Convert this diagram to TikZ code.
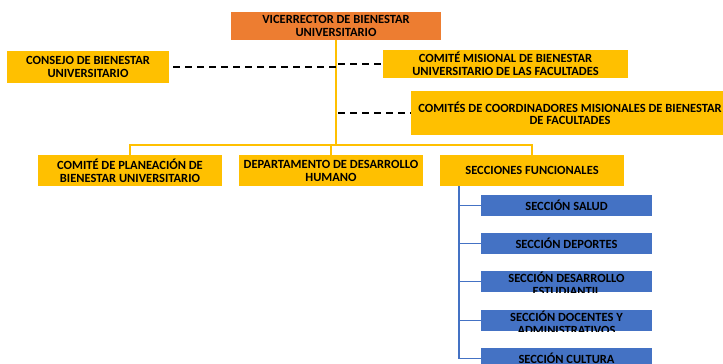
\documentclass[tikz,border=0pt]{standalone}
\usepackage{fontspec}
\setmainfont{Carlito}
\definecolor{orgc}{HTML}{ED7D31}
\definecolor{yelc}{HTML}{FFC000}
\definecolor{bluc}{HTML}{4472C4}
\begin{document}
\begin{tikzpicture}[x=1pt,y=-1pt,
  txt/.style={font=\fontsize{12.5}{13}\selectfont\bfseries, text=black, align=center, inner sep=0pt},
  obox/.style={txt, fill=orgc},
  ybox/.style={txt, fill=yelc},
  bbox/.style={txt, fill=bluc, minimum width=171pt, minimum height=21pt},
  yline/.style={draw=yelc, line width=1.6pt},
  bline/.style={draw=bluc, line width=1.8pt},
  dline/.style={draw=black, line width=1.5pt, dash pattern=on 7pt off 5pt}]
\useasboundingbox (0,0) rectangle (723,364);
\coordinate (j1) at (336,145);
\node[obox, minimum width=210pt, minimum height=28pt] (vr) at (336,26) {VICERRECTOR DE BIENESTAR\\UNIVERSITARIO};
\node[ybox, minimum width=162pt, minimum height=32pt] (cb) at (88,67) {CONSEJO DE BIENESTAR\\UNIVERSITARIO};
\node[ybox, minimum width=245pt, minimum height=28pt] (cm) at (505.5,64) {COMITÉ MISIONAL DE BIENESTAR\\UNIVERSITARIO DE LAS FACULTADES};
\node[ybox, minimum width=318pt, minimum height=44pt, font=\fontsize{12.5}{12}\selectfont\bfseries] (cc) at (570,113) {COMITÉS DE COORDINADORES MISIONALES DE BIENESTAR\\DE FACULTADES};
\node[ybox, minimum width=184pt, minimum height=31pt] (cp) at (130,170.5) {COMITÉ DE PLANEACIÓN DE\\BIENESTAR UNIVERSITARIO};
\node[ybox, minimum width=184pt, minimum height=31pt] (dd) at (331,170.5) {DEPARTAMENTO DE DESARROLLO\\HUMANO};
\node[ybox, minimum width=184pt, minimum height=31pt] (sf) at (532,170.5) {SECCIONES FUNCIONALES};
\node[bbox] (ss) at (566.5,205.5) {SECCIÓN SALUD};
\node[bbox] (sp) at (566.5,243.5) {SECCIÓN DEPORTES};
\node[bbox] (se) at (566.5,281.5) {};
\node[bbox] (sd) at (566.5,320.5) {};
\node[bbox] (sc) at (566.5,358.5) {SECCIÓN CULTURA};
\begin{scope}
  \clip (se.north west) rectangle (se.south east);
  \node[txt] (set) at (566.5,284) {SECCIÓN DESARROLLO\\ESTUDIANTIL};
\end{scope}
\begin{scope}
  \clip (sd.north west) rectangle (sd.south east);
  \node[txt] (sdt) at (566.5,323) {SECCIÓN DOCENTES Y\\ADMINISTRATIVOS};
\end{scope}
% yellow tree
\draw[yline] (vr.south) -- (j1);
\draw[yline] (cp.north) -- (cp.north |- j1) -- (sf.north |- j1) -- (sf.north);
\draw[yline] (dd.north) -- (dd.north |- j1);
% dashed links
\draw[dline, shorten <=4pt] (cb.east) -- (cb.east -| vr.south);
\draw[dline] (cm.west -| vr.south) ++(2,0) -- (cm.west);
\draw[dline] (cc.west -| vr.south) ++(2,0) -- (cc.west);
% blue tree
\coordinate (bt) at (459,186);
\coordinate (bb) at (bt |- sc.west);
\draw[bline] (bt) -- (bb) -- (sc.west);
\draw[bline] (bt |- ss.west) -- (ss.west);
\draw[bline] (bt |- sp.west) -- (sp.west);
\draw[bline] (bt |- se.west) -- (se.west);
\draw[bline] (bt |- sd.west) -- (sd.west);
\end{tikzpicture}
\end{document}
